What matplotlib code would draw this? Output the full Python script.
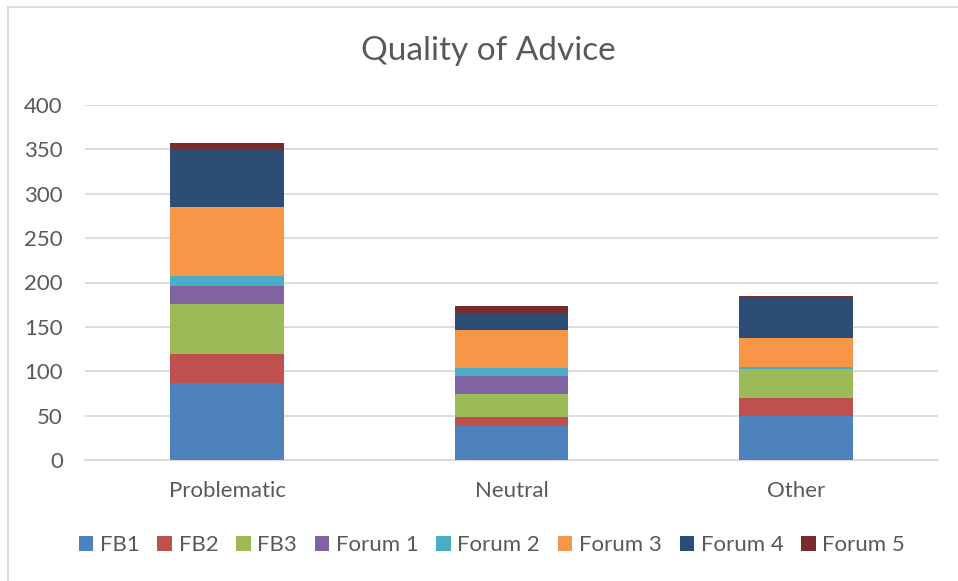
import numpy as np
import matplotlib
matplotlib.use('Agg')
import matplotlib.pyplot as plt
from matplotlib.lines import Line2D

categories = ['Problematic', 'Neutral', 'Other']
series_names = ['FB1', 'FB2', 'FB3', 'Forum 1', 'Forum 2', 'Forum 3', 'Forum 4', 'Forum 5']
fb1 = [87, 38, 50]
fb2 = [32, 11, 20]
fb3 = [57, 25, 32]
forum1 = [20, 21, 0]
forum2 = [11, 9, 3]
forum3 = [78, 43, 33]
forum4 = [65, 19, 46]
forum5 = [7, 7, 1]
yticks = [0, 50, 100, 150, 200, 250, 300, 350, 400]

colors = ['#4f81bd', '#c0504d', '#9bbb59', '#8064a2',
          '#4bacc6', '#f79646', '#2c4d75', '#772c2a']
text_color = '#595959'

plt.rcParams['font.family'] = ['Lato', 'DejaVu Sans']

fig = plt.figure(figsize=(9.58, 5.81), dpi=100)
ax = fig.add_axes([85 / 958, 1 - 460 / 581, 853 / 958, 355 / 581])

x = np.arange(len(categories))
bottom = np.zeros(len(categories))
all_series = [fb1, fb2, fb3, forum1, forum2, forum3, forum4, forum5]
for name, vals, c in zip(series_names, all_series, colors):
    ax.bar(x, vals, width=0.4, bottom=bottom, color=c, label=name, zorder=3)
    bottom += np.array(vals)

ax.set_xlim(-0.5, 2.5)
ax.set_ylim(0, 400)
ax.set_yticks(yticks)
ax.set_xticks(x)
ax.set_xticklabels(categories)
ax.grid(axis='y', color='#d9d9d9', linewidth=1.3, zorder=0)
for s in ['top', 'right', 'left']:
    ax.spines[s].set_visible(False)
ax.spines['bottom'].set_color('#d9d9d9')
ax.spines['bottom'].set_linewidth(1.3)
ax.tick_params(axis='both', length=0, labelsize=16, colors=text_color)
ax.tick_params(axis='y', pad=16)
ax.tick_params(axis='x', pad=15)

fig.text(488 / 958, 1 - 51 / 581, 'Quality of Advice', ha='center', va='center',
         fontsize=24, color=text_color)

leg = ax.legend(loc='center', bbox_to_anchor=(492 / 958, 1 - 545 / 581),
                bbox_transform=fig.transFigure, ncol=8, frameon=False,
                fontsize=16, handlelength=0.65, handleheight=0.65,
                handletextpad=0.3, columnspacing=0.8)
for t in leg.get_texts():
    t.set_color(text_color)

# chart border lines
fig.add_artist(Line2D([7.5 / 958, 7.5 / 958], [0, 1 - 7 / 581], color='#d9d9d9', lw=1.3))
fig.add_artist(Line2D([7.5 / 958, 1], [1 - 7 / 581, 1 - 7 / 581], color='#d9d9d9', lw=1.3))

fig.savefig('out.png', dpi=100)
